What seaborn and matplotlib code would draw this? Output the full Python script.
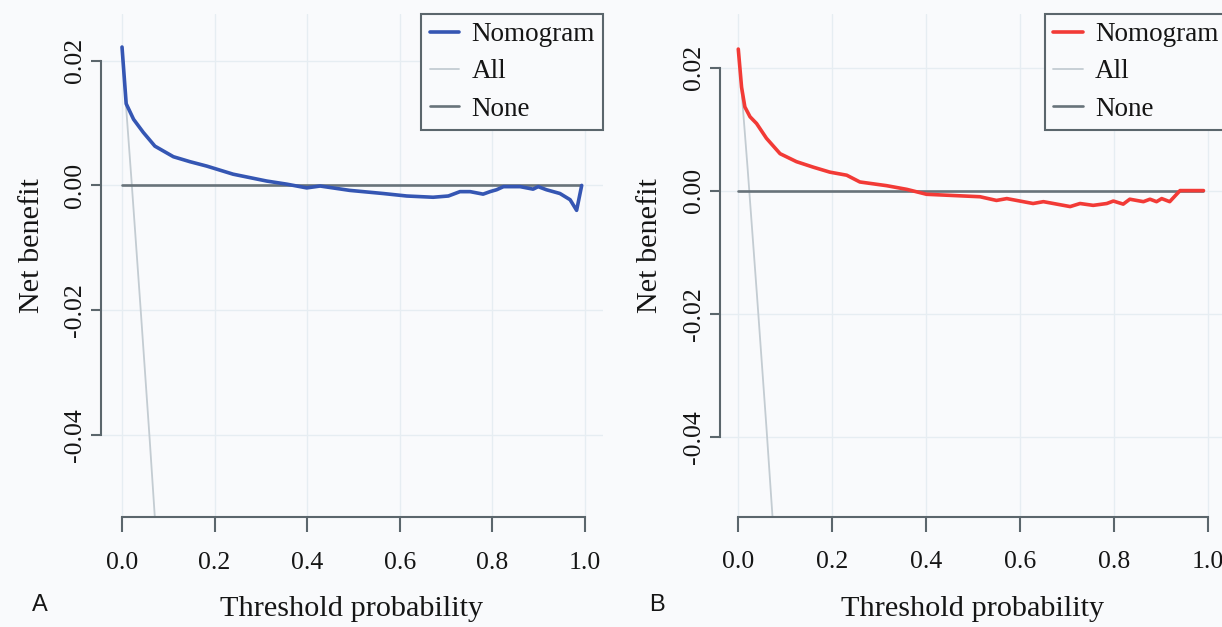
import numpy as np
import pandas as pd
import matplotlib
matplotlib.use("Agg")
import matplotlib.pyplot as plt
import seaborn as sns

# ---------------- data ----------------
left_thr = [0, 0.009, 0.025, 0.046, 0.071, 0.111, 0.147, 0.183, 0.24, 0.3125, 0.356,
            0.399, 0.428, 0.492, 0.564, 0.615, 0.672, 0.705, 0.730, 0.752, 0.780,
            0.795, 0.809, 0.824, 0.860, 0.888, 0.899, 0.917, 0.946, 0.968, 0.982, 0.993]
left_nomo = [0.0222, 0.0131, 0.0106, 0.0085, 0.0063, 0.0046, 0.0038, 0.0031, 0.0018, 0.0007,
             0.0002, -0.0004, -0.0001, -0.0008, -0.0013, -0.0017, -0.0019, -0.0017, -0.0010,
             -0.0010, -0.0014, -0.0010, -0.0007, -0.0002, -0.0002, -0.0006, -0.0002, -0.0007,
             -0.0013, -0.0023, -0.0040, 0.0]
left_all_thr = [0.0, 0.02, 0.04, 0.06, 0.08]
left_all = [0.0215, 0.0013, -0.0196, -0.0410, -0.0635]

right_thr = [0, 0.007, 0.014, 0.025, 0.039, 0.060, 0.089, 0.124, 0.160, 0.195, 0.231, 0.259,
             0.316, 0.359, 0.401, 0.458, 0.515, 0.550, 0.572, 0.628, 0.650, 0.707, 0.728,
             0.756, 0.785, 0.799, 0.820, 0.834, 0.863, 0.877, 0.891, 0.902, 0.919, 0.941, 0.991]
right_nomo = [0.0230, 0.0168, 0.0136, 0.0120, 0.0109, 0.0085, 0.0060, 0.0047, 0.0038, 0.0030,
              0.0025, 0.0014, 0.0008, 0.0002, -0.0006, -0.0008, -0.0010, -0.0016, -0.0013,
              -0.0021, -0.0018, -0.0026, -0.0021, -0.0024, -0.0021, -0.0017, -0.0022, -0.0014,
              -0.0018, -0.0014, -0.0018, -0.0013, -0.0018, 0.0, 0.0]
right_all_thr = [0.0, 0.02, 0.04, 0.06, 0.08]
right_all = [0.023, 0.0035, -0.0172, -0.0385, -0.061]

none_thr = [0.0, 0.99]
none_nb = [0.0, 0.0]

x_ticks = [0.0, 0.2, 0.4, 0.6, 0.8, 1.0]
x_ticklabels = ["0.0", "0.2", "0.4", "0.6", "0.8", "1.0"]
y_ticks = [-0.04, -0.02, 0.0, 0.02]
y_ticklabels = ["-0.04", "-0.02", "0.00", "0.02"]
legend_labels = ["Nomogram", "All", "None"]
panel_labels = ["A", "B"]
xlabel = "Threshold probability"
ylabel = "Net benefit"

# ---------------- style ----------------
sns.set_style("white")
plt.rcParams["font.family"] = ["Liberation Serif", "DejaVu Serif"]

BG = "#f9fafc"
AX_COL = "#5b666c"
GRID = "#e6edf2"
ALL_COL = "#c3ccd2"
NONE_COL = "#68737a"
TXT = "#151515"

W, H = 1222, 627
fig = plt.figure(figsize=(W / 100, H / 100), dpi=100, facecolor=BG)

panels = [
    dict(rect=[101 / W, (627 - 517) / H, (603 - 101) / W, (517 - 14) / H],
         xlim=(-0.0454, 1.039), ylim=(-0.0532, 0.0275),
         thr=left_thr, nomo=left_nomo, all_thr=left_all_thr, all_nb=left_all,
         color="#3556b3", label_x=40),
    dict(rect=[719.5 / W, (627 - 516.7) / H, (1226.5 - 719.5) / W, (516.7 - 14) / H],
         xlim=(-0.040, 1.040), ylim=(-0.0530, 0.0287),
         thr=right_thr, nomo=right_nomo, all_thr=right_all_thr, all_nb=right_all,
         color="#f23a36", label_x=657),
]

for i, p in enumerate(panels):
    ax = fig.add_axes(p["rect"])
    ax.set_facecolor(BG)

    df_n = pd.DataFrame({"t": p["thr"], "nb": p["nomo"]})
    df_a = pd.DataFrame({"t": p["all_thr"], "nb": p["all_nb"]})
    df_0 = pd.DataFrame({"t": none_thr, "nb": none_nb})

    sns.lineplot(data=df_n, x="t", y="nb", ax=ax, color=p["color"], lw=2.6,
                 sort=False, estimator=None, label=legend_labels[0], zorder=4)
    sns.lineplot(data=df_a, x="t", y="nb", ax=ax, color=ALL_COL, lw=1.3,
                 sort=False, estimator=None, label=legend_labels[1], zorder=2)
    sns.lineplot(data=df_0, x="t", y="nb", ax=ax, color=NONE_COL, lw=1.9,
                 sort=False, estimator=None, label=legend_labels[2], zorder=3)

    ax.set_xlim(*p["xlim"])
    ax.set_ylim(*p["ylim"])
    ax.set_xticks(x_ticks)
    ax.set_xticklabels(x_ticklabels, fontsize=18.5)
    ax.set_yticks(y_ticks)
    ax.set_yticklabels(y_ticklabels, fontsize=18.5, rotation=90, va="center")

    ax.grid(True, color=GRID, lw=1.0, zorder=0)
    ax.set_axisbelow(True)

    for s in ["top", "right"]:
        ax.spines[s].set_visible(False)
    for s in ["left", "bottom"]:
        ax.spines[s].set_color(AX_COL)
        ax.spines[s].set_linewidth(1.5)
    ax.spines["left"].set_bounds(-0.04, 0.02)
    ax.spines["bottom"].set_bounds(0.0, 1.0)
    ax.tick_params(axis="x", direction="out", length=11, width=1.5, color=AX_COL,
                   pad=14, labelcolor=TXT, bottom=True)
    ax.tick_params(axis="y", direction="out", length=7.5, width=1.5, color=AX_COL,
                   pad=3, labelcolor=TXT, left=True)

    ax.set_xlabel(xlabel, fontsize=21.8, color=TXT)
    ax.set_ylabel(ylabel, fontsize=21.8, color=TXT)
    ax.xaxis.set_label_coords(0.5, -0.157)
    ax.yaxis.set_label_coords(-0.111, 0.54)

    leg = ax.legend(loc="upper right", bbox_to_anchor=(1.0, 1.0), borderaxespad=0.0,
                    fontsize=19.5, frameon=True, fancybox=False, handlelength=1.1,
                    handletextpad=0.45, labelspacing=0.45, borderpad=0.3)
    fr = leg.get_frame()
    fr.set_edgecolor(AX_COL)
    fr.set_linewidth(1.5)
    fr.set_facecolor(BG)
    fr.set_alpha(1.0)
    for t in leg.get_texts():
        t.set_color(TXT)

    fig.text(p["label_x"] / W, 1 - 605 / H, panel_labels[i], fontsize=17,
             family=["Liberation Sans", "DejaVu Sans"], color=TXT,
             ha="center", va="center")

fig.savefig("out.png", dpi=100, facecolor=BG)
